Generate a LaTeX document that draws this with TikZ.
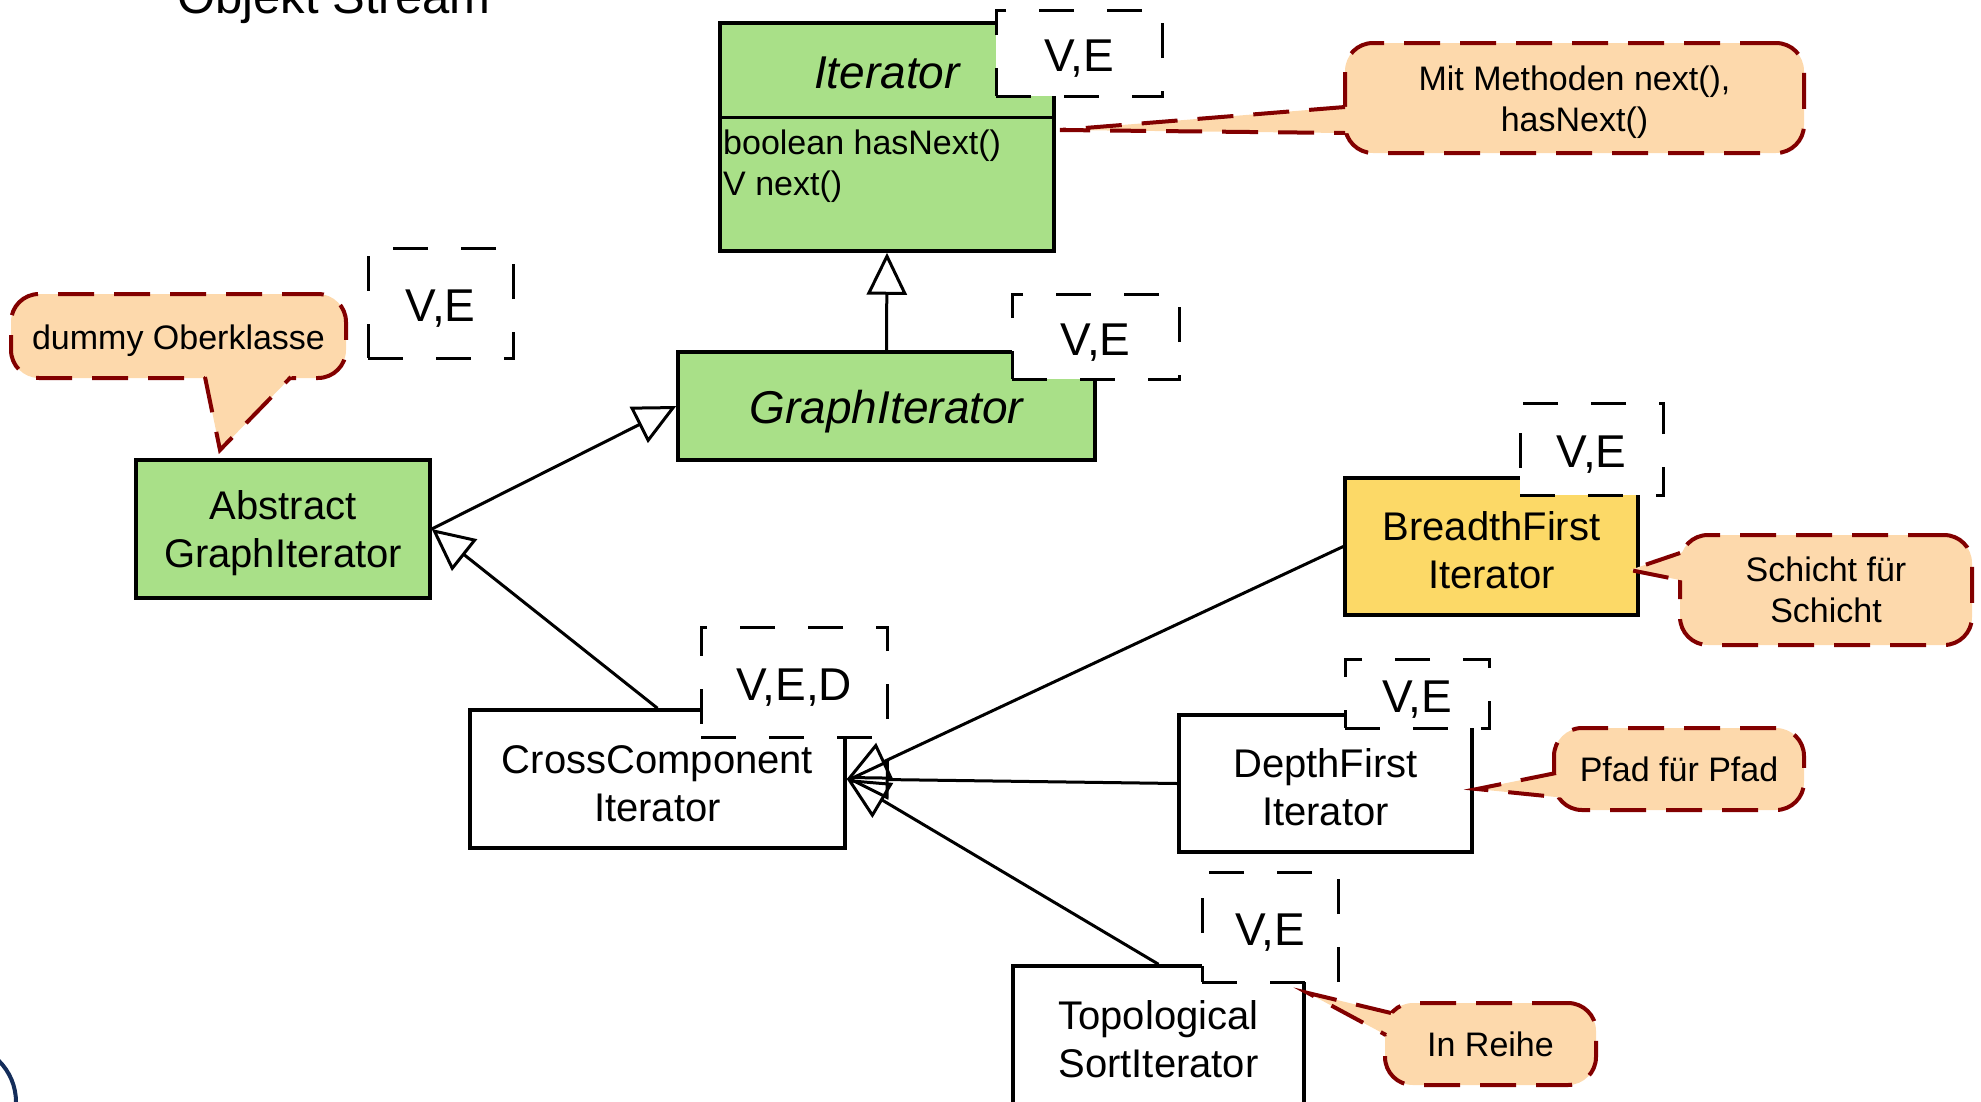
\documentclass[tikz,border=0pt]{standalone}
\usepackage{fontspec}
\setmainfont{Liberation Sans}
\usetikzlibrary{arrows.meta,calc}
\definecolor{umlgreen}{RGB}{169,224,136}
\definecolor{umlyellow}{RGB}{252,217,103}
\definecolor{peach}{RGB}{253,217,172}
\definecolor{noteborder}{RGB}{130,0,0}
\definecolor{logonavy}{RGB}{20,45,90}
\newcommand\notepointer[3]{%
  \fill[peach] ($(#1)!-9pt!(#2)$) -- (#2) -- ($(#3)!-9pt!(#2)$) -- cycle;
  \draw[notetip] (#1) -- (#2) -- (#3);}
\begin{document}
\begin{tikzpicture}[x=1pt,y=-1pt,
  cls/.style={draw=black, line width=3.5pt, inner sep=0pt, align=center,
    text height=85pt, font=\fontsize{40}{48}\selectfont},
  param/.style={draw=black, fill=white, line width=3pt,
    dash pattern=on 35pt off 33pt, inner sep=0pt, text height=43pt,
    font=\fontsize{46}{52}\selectfont},
  note/.style={draw=noteborder, fill=peach, line width=4pt,
    dash pattern=on 36pt off 20pt, rounded corners=28pt, inner sep=0pt,
    align=center, font=\fontsize{34}{41}\selectfont},
  notetip/.style={draw=noteborder, line width=4pt, dash pattern=on 36pt off 20pt},
  inherit/.style={draw=black, line width=3pt,
    -{Triangle[open, length=42pt, width=40pt]}},
]
\useasboundingbox (0,0) rectangle (1981,1101);

% title (cut at top)
\node[anchor=base, font=\fontsize{49}{55}\selectfont] (title) at (334,13) {Objekt Stream};

% logo fragment
\draw[logonavy, line width=4pt] (-42,1102) circle (58pt);

% classes
\node[cls, fill=umlgreen, minimum width=334pt, minimum height=228pt] (iter) at (887,137) {};
\draw[line width=3.5pt] ($(iter.north west)+(0,96)$) -- ($(iter.north east)+(0,96)$);
\node[anchor=base, font=\fontsize{46}{52}\selectfont\itshape] (itertitle) at (887,88) {Iterator};
\node[anchor=base west, inner sep=0pt, font=\fontsize{34}{41}\selectfont] (itm1) at (723,154) {boolean hasNext()};
\node[anchor=base west, inner sep=0pt, font=\fontsize{34}{41}\selectfont] (itm2) at (723,195) {V next()};

\node[cls, fill=umlgreen, minimum width=417pt, minimum height=108pt,
  font=\fontsize{46}{52}\selectfont\itshape, text height=34pt, text depth=0pt] (gi) at (886.5,406) {GraphIterator};
\node[cls, fill=umlgreen, minimum width=294pt, minimum height=138pt] (abs) at (283,529) {Abstract\\GraphIterator};
\node[cls, minimum width=375pt, minimum height=138pt] (cross) at (657.5,779) {CrossComponent\\Iterator};
\node[cls, fill=umlyellow, minimum width=293pt, minimum height=137pt] (bf) at (1491.5,546.5) {BreadthFirst\\Iterator};
\node[cls, minimum width=293pt, minimum height=137pt] (df) at (1325.5,783.5) {DepthFirst\\Iterator};
\node[cls, minimum width=291pt, minimum height=138pt] (topo) at (1158.5,1035) {Topological\\SortIterator};

% inheritance
\draw[inherit] (gi.north) -- (iter.south);
\draw[inherit] (abs.east) -- (gi.west);
\draw[inherit] (cross.north) -- (abs.east);
\draw[inherit] (bf.west) -- (cross.east);
\draw[inherit] (df.west) -- (cross.east);
\draw[inherit] (topo.north) -- (cross.east);

% type parameters
\node[param, minimum width=166pt, minimum height=86pt] (iterp) at (1079,53) {V,E};
\node[param, minimum width=167pt, minimum height=85pt] (gip) at (1095.5,336.5) {V,E};
\node[param, minimum width=145pt, minimum height=110pt] (absp) at (440.5,303) {V,E};
\node[param, minimum width=186pt, minimum height=110pt] (crossp) at (794,682) {V,E,D};
\node[param, minimum width=143pt, minimum height=92pt] (bfp) at (1591.5,449) {V,E};
\node[param, minimum width=144pt, minimum height=69pt] (dfp) at (1417,693.5) {V,E};
\node[param, minimum width=136pt, minimum height=110pt] (topop) at (1270,927) {V,E};

% notes
\node[note, minimum width=459pt, minimum height=110pt, text height=74pt] (n1) at (1574.5,98) {Mit Methoden next(),\\hasNext()};
\coordinate (n1a) at (1345,107); \coordinate (n1t) at (1060,130); \coordinate (n1b) at (1345,133);
\notepointer{n1a}{n1t}{n1b}

\node[note, minimum width=335pt, minimum height=84pt, text height=34pt] (n2) at (178.5,336) {dummy Oberklasse};
\coordinate (n2a) at (205,377); \coordinate (n2t) at (220,450); \coordinate (n2b) at (291,377);
\notepointer{n2a}{n2t}{n2b}

\node[note, minimum width=292pt, minimum height=110pt] (n3) at (1826,590) {Schicht für\\Schicht};
\coordinate (n3a) at (1680,553); \coordinate (n3t) at (1630,570); \coordinate (n3b) at (1680,580);
\notepointer{n3a}{n3t}{n3b}

\node[note, minimum width=250pt, minimum height=82pt] (n4) at (1679,769) {Pfad für Pfad};
\coordinate (n4a) at (1556,773); \coordinate (n4t) at (1477,789); \coordinate (n4b) at (1556,797);
\notepointer{n4a}{n4t}{n4b}

\node[note, minimum width=211pt, minimum height=82pt] (n5) at (1490.5,1044) {In Reihe};
\coordinate (n5a) at (1391,1013); \coordinate (n5t) at (1308,993); \coordinate (n5b) at (1386,1035);
\notepointer{n5a}{n5t}{n5b}
\end{tikzpicture}
\end{document}
